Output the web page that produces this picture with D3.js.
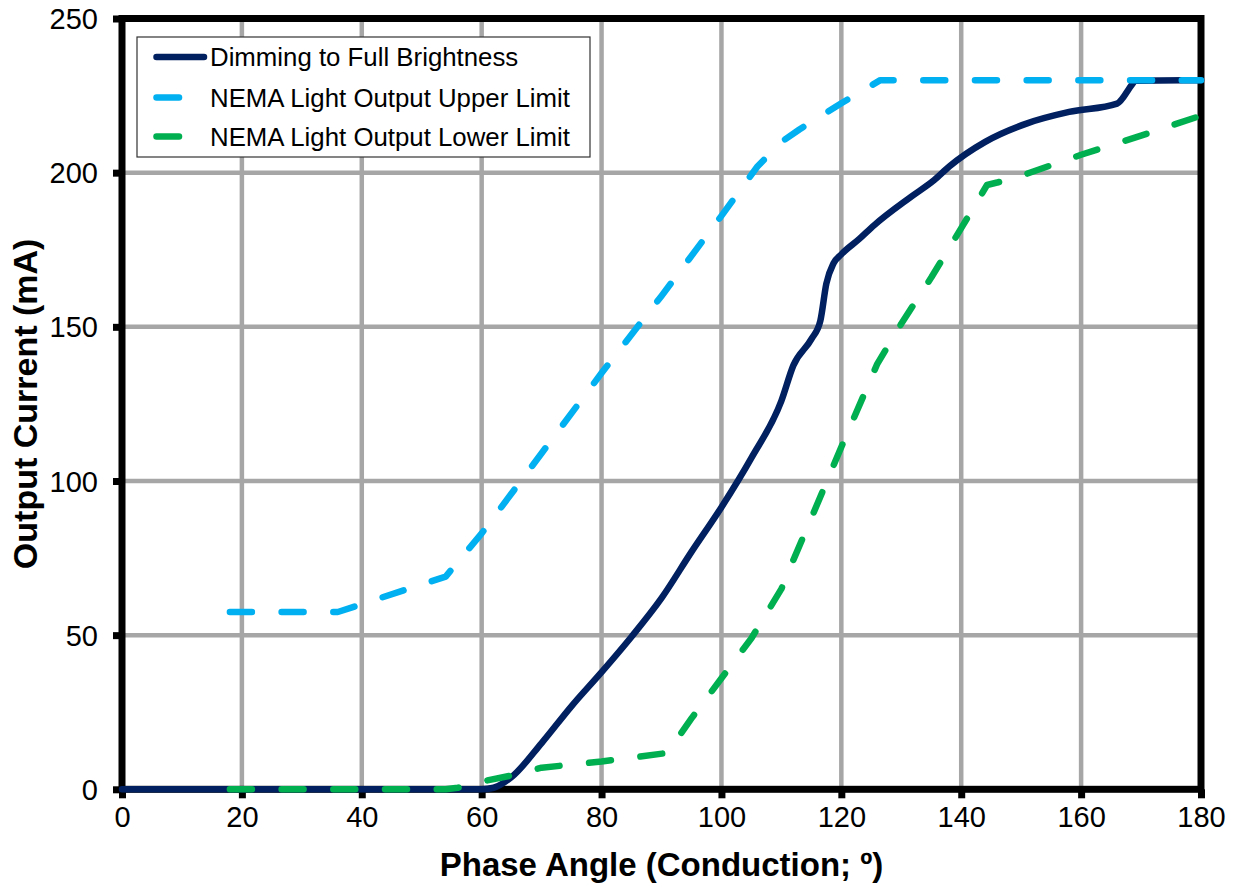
<!DOCTYPE html>
<html><head><meta charset="utf-8">
<script src="https://cdn.jsdelivr.net/npm/d3@7"></script>
<style>html,body{margin:0;padding:0;background:#fff;}svg{display:block;}</style>
</head><body>
<svg id="c" width="1233" height="888"></svg>
<script>
// ---- data ----
const xTicks = [0,20,40,60,80,100,120,140,160,180];
const yTicks = [0,50,100,150,200,250];
const seriesNames = ["Dimming to Full Brightness","NEMA Light Output Upper Limit","NEMA Light Output Lower Limit"];
const dimX = [0,60,62,65,70,75,80,85,90,95,100,105,110,112,115,116.5,117.5,118.7,120,123,125.5,131.5,135.5,138,144,151,158,166,168.5,169,180];
const dimY = [0,0,0.5,4,15,27,38,49.5,62,77,91.5,107.5,126,137.5,146,152,164,170.6,173.5,178.5,183,192,197.6,202,210,216,219.7,222.4,228.6,229.8,230];
const upX = [18,36,54,60,70,80,86,90,100,106,110,113,120,126.5,180];
const upY = [57.5,57.5,69,83,109,135,150,160,186,202,210,214,222.5,230,230];
const loX = [18,54,56,60,65,70,80,91,95,100,105,110,112,115,120,126,130,135,140,144.3,146,150,160,170,180];
const loY = [0,0,0.5,2.5,4.5,7,9,11.8,23,36,49,65,74.4,88,111,138,151,166,182,196,196.8,199,205.8,212,218.5];

// ---- layout ----
const svg = d3.select("#c");
const x = d3.scaleLinear().domain([0,180]).range([122,1201]);
const y = d3.scaleLinear().domain([0,250]).range([789.3,18.5]);
const navy = "#002060", lblue = "#00B0F0", green = "#00B050", grid = "#A6A6A6";
const font = "Arial, 'Liberation Sans', sans-serif";

// gridlines
svg.append("g").selectAll("line.v").data(xTicks.slice(1,-1)).join("line")
  .attr("x1",d=>x(d)).attr("x2",d=>x(d)).attr("y1",y(250)).attr("y2",y(0))
  .attr("stroke",grid).attr("stroke-width",4.5);
svg.append("g").selectAll("line.h").data(yTicks.slice(1,-1)).join("line")
  .attr("x1",x(0)).attr("x2",x(180)).attr("y1",d=>y(d)).attr("y2",d=>y(d))
  .attr("stroke",grid).attr("stroke-width",4.5);

// axes (ticks outward)
const xAxis = d3.axisBottom(x).tickValues(xTicks).tickSize(9).tickPadding(8).tickFormat(d3.format("d"));
const yAxis = d3.axisLeft(y).tickValues(yTicks).tickSize(9).tickPadding(16).tickFormat(d3.format("d"));
const gx = svg.append("g").attr("transform",`translate(0,${y(0)})`).call(xAxis);
const gy = svg.append("g").attr("transform",`translate(${x(0)},0)`).call(yAxis);
[gx,gy].forEach(g=>{
  g.select(".domain").remove();
  g.selectAll(".tick line").attr("stroke","#000").attr("stroke-width",7);
  g.selectAll(".tick text").attr("fill","#000").style("font-family",font).style("font-size","29px");
});
gx.selectAll(".tick text").attr("dy","0.71em").attr("y",17);
gy.selectAll(".tick text").attr("dy","0.35em").attr("x",-24);

// frame
svg.append("rect").attr("x",x(0)).attr("y",y(250)).attr("width",x(180)-x(0)).attr("height",y(0)-y(250))
  .attr("fill","none").attr("stroke","#000").attr("stroke-width",7);

// series
const line = d3.line().x(d=>x(d[0])).y(d=>y(d[1]));
const smooth = d3.line().x(d=>x(d[0])).y(d=>y(d[1])).curve(d3.curveMonotoneX);
const dash = "22,29.7";
svg.append("path").datum(dimX.map((v,i)=>[v,dimY[i]])).attr("d",smooth)
  .attr("fill","none").attr("stroke",navy).attr("stroke-width",6.5).attr("stroke-linejoin","round").attr("stroke-linecap","round");
svg.append("path").datum(upX.map((v,i)=>[v,upY[i]])).attr("d",line)
  .attr("fill","none").attr("stroke",lblue).attr("stroke-width",6.5).attr("stroke-dasharray",dash)
  .attr("stroke-linejoin","round").attr("stroke-linecap","round");
svg.append("path").datum(loX.map((v,i)=>[v,loY[i]])).attr("d",line)
  .attr("fill","none").attr("stroke",green).attr("stroke-width",6.5).attr("stroke-dasharray",dash)
  .attr("stroke-linejoin","round").attr("stroke-linecap","round");

// legend
const lg = svg.append("g");
lg.append("rect").attr("x",137).attr("y",37).attr("width",453).attr("height",120)
  .attr("fill","#fff").attr("stroke","#333").attr("stroke-width",1.2);
const lColors = [navy,lblue,green];
const lY = [57,97.5,136.5];
seriesNames.forEach((n,i)=>{
  lg.append("line").attr("x1",156.5).attr("x2",i===0?204:179).attr("y1",lY[i]).attr("y2",lY[i])
    .attr("stroke",lColors[i]).attr("stroke-width",6.5).attr("stroke-linecap","round");
  lg.append("text").attr("x",210).attr("y",lY[i]).attr("dy","0.35em")
    .style("font-family",font).style("font-size","25.8px").attr("fill","#000").text(n);
});

// axis titles
svg.append("text").attr("x",(x(0)+x(180))/2).attr("y",876).attr("text-anchor","middle")
  .style("font-family",font).style("font-size","33px").style("font-weight","bold").text("Phase Angle (Conduction; º)");
svg.append("text").attr("transform",`translate(37,${(y(0)+y(250))/2}) rotate(-90)`).attr("text-anchor","middle")
  .style("font-family",font).style("font-size","34px").style("font-weight","bold").text("Output Current (mA)");
</script>
</body></html>
